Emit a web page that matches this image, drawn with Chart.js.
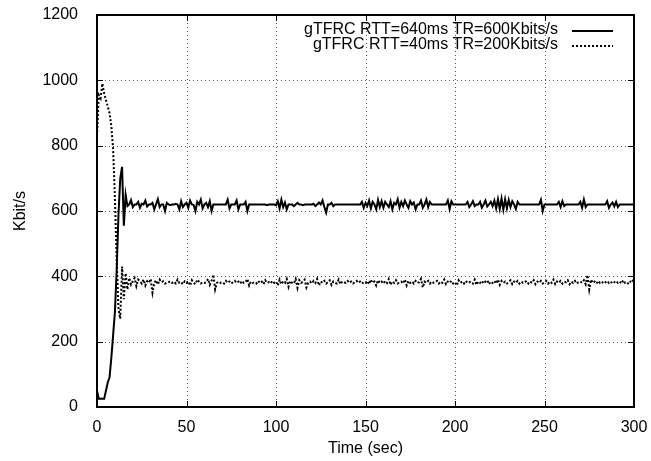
<!DOCTYPE html>
<html>
<head>
<meta charset="utf-8">
<script src="https://cdn.jsdelivr.net/npm/chart.js@4.4.0/dist/chart.umd.min.js"></script>
<style>
  html, body { margin: 0; padding: 0; background: #fff; }
  #wrap { width: 651px; height: 461px; }
</style>
</head>
<body>
<div id="wrap"><canvas id="chart"></canvas></div>
<script>
// tick values
const xTicks = [0, 50, 100, 150, 200, 250, 300];
const yTicks = [0, 200, 400, 600, 800, 1000, 1200];

const labelSlow = 'gTFRC RTT=640ms TR=600Kbits/s';
const labelFast = 'gTFRC RTT=40ms TR=200Kbits/s';

// one sample per second, t = 0..300
const rttSlow = [
  50, 25, 25, 25, 25, 50, 75, 90, 150, 220,
  290, 420, 590, 700, 735, 555, 650, 615, 620, 633,
  612, 620, 620, 628, 610, 622, 620, 632, 614, 620,
  620, 625, 605, 620, 636, 612, 620, 620, 600, 625,
  620, 618, 620, 620, 622, 620, 605, 630, 612, 620,
  625, 610, 632, 620, 618, 600, 628, 620, 635, 608,
  620, 625, 612, 630, 600, 620, 620, 620, 620, 620,
  620, 620, 620, 635, 608, 620, 620, 620, 632, 605,
  620, 620, 620, 628, 600, 620, 620, 620, 620, 620,
  620, 620, 620, 620, 620, 618, 620, 620, 620, 620,
  618, 630, 608, 635, 612, 626, 605, 620, 620, 620,
  615, 620, 625, 620, 620, 618, 620, 620, 620, 620,
  620, 622, 615, 620, 626, 620, 632, 612, 595, 620,
  620, 625, 615, 620, 620, 620, 620, 620, 620, 620,
  620, 620, 620, 620, 620, 620, 620, 620, 628, 610,
  625, 615, 632, 608, 628, 620, 605, 634, 612, 630,
  610, 628, 620, 612, 630, 605, 625, 620, 636, 610,
  628, 615, 632, 620, 610, 630, 620, 626, 605, 620,
  620, 632, 610, 620, 635, 612, 628, 620, 620, 620,
  620, 620, 620, 620, 620, 620, 632, 606, 630, 620,
  620, 620, 620, 620, 620, 620, 620, 628, 612, 620,
  630, 615, 620, 620, 628, 610, 620, 632, 614, 620,
  628, 615, 632, 608, 636, 606, 638, 604, 636, 608,
  634, 612, 630, 620, 606, 628, 620, 620, 620, 620,
  620, 620, 620, 620, 620, 620, 620, 620, 634, 600,
  620, 620, 620, 620, 620, 620, 620, 620, 628, 612,
  630, 615, 620, 620, 620, 620, 620, 620, 620, 620,
  628, 610, 635, 612, 620, 620, 620, 620, 620, 620,
  620, 620, 620, 620, 620, 630, 610, 620, 626, 614,
  628, 612, 620, 620, 620, 620, 620, 620, 620, 620,
  620
];

const rttFast = [
  830, 955, 945, 990, 960, 940, 920, 900, 860, 790,
  640, 450, 300, 270, 430, 330, 410, 360, 395, 375,
  385, 395, 370, 390, 385, 378, 390, 372, 385, 380,
  392, 350, 380, 388, 375, 390, 382, 385, 378, 380,
  382, 385, 380, 384, 378, 390, 380, 382, 376, 385,
  380, 385, 372, 388, 380, 376, 390, 384, 378, 382,
  380, 382, 392, 374, 386, 405, 360, 380, 384, 380,
  382, 378, 386, 380, 384, 378, 382, 386, 380, 384,
  378, 386, 380, 382, 392, 372, 384, 380, 382, 378,
  386, 380, 384, 376, 388, 380, 382, 378, 386, 380,
  384, 372, 390, 376, 384, 380, 392, 368, 386, 380,
  378, 392, 365, 388, 380, 384, 390, 366, 380, 384,
  378, 386, 380, 392, 372, 384, 380, 386, 378, 382,
  388, 374, 384, 380, 378, 390, 376, 384, 382, 380,
  386, 380, 384, 378, 382, 386, 380, 384, 378, 382,
  380, 386, 376, 390, 380, 384, 372, 388, 380, 384,
  378, 386, 380, 392, 374, 384, 380, 388, 378, 382,
  384, 378, 390, 372, 386, 380, 384, 378, 386, 380,
  382, 392, 366, 384, 380, 386, 378, 384, 380, 382,
  386, 378, 384, 380, 390, 376, 384, 380, 386, 378,
  382, 372, 388, 380, 384, 378, 386, 380, 382, 384,
  378, 390, 374, 384, 380, 386, 378, 384, 388, 376,
  384, 380, 386, 378, 390, 374, 386, 380, 384, 378,
  382, 388, 376, 384, 380, 386, 378, 384, 380, 382,
  386, 378, 384, 380, 388, 376, 384, 380, 386, 378,
  382, 386, 378, 384, 380, 390, 376, 384, 380, 386,
  378, 384, 382, 388, 376, 384, 380, 386, 378, 382,
  384, 380, 388, 376, 404, 360, 390, 380, 384, 378,
  386, 380, 384, 378, 382, 386, 380, 384, 378, 382,
  386, 380, 384, 378, 388, 380, 382, 376, 384, 390,
  380
];

const FONT = 'Liberation Sans, Arial, Helvetica, sans-serif';
const FS = 16;
const toPoints = arr => arr.map((v, i) => ({ x: i, y: v }));

// gnuplot look: dotted grid, frame, inward ticks on all four sides, legend top right
const gnuplotFrame = {
  id: 'gnuplotFrame',
  beforeDatasetsDraw(chart) {
    const { ctx, chartArea: a, scales } = chart;
    ctx.save();
    ctx.strokeStyle = '#555';
    ctx.lineWidth = 1;
    ctx.setLineDash([1, 3]);
    ctx.beginPath();
    xTicks.slice(1, -1).forEach(v => {
      const px = Math.round(scales.x.getPixelForValue(v)) + 0.5;
      ctx.moveTo(px, a.top); ctx.lineTo(px, a.bottom);
    });
    yTicks.slice(1, -1).forEach(v => {
      const py = Math.round(scales.y.getPixelForValue(v)) + 0.5;
      ctx.moveTo(a.left, py); ctx.lineTo(a.right, py);
    });
    ctx.stroke();
    ctx.restore();
  },
  afterDatasetsDraw(chart) {
    const { ctx, chartArea: a, scales } = chart;
    ctx.save();
    ctx.strokeStyle = '#000';
    ctx.lineWidth = 1;
    const tl = 6;
    ctx.beginPath();
    xTicks.forEach(v => {
      const px = Math.round(scales.x.getPixelForValue(v)) + 0.5;
      ctx.moveTo(px, a.bottom); ctx.lineTo(px, a.bottom - tl);
      ctx.moveTo(px, a.top); ctx.lineTo(px, a.top + tl);
    });
    yTicks.forEach(v => {
      const py = Math.round(scales.y.getPixelForValue(v)) + 0.5;
      ctx.moveTo(a.left, py); ctx.lineTo(a.left + tl, py);
      ctx.moveTo(a.right, py); ctx.lineTo(a.right - tl, py);
    });
    ctx.stroke();
    ctx.lineWidth = 2;
    ctx.strokeRect(a.left, a.top, a.right - a.left, a.bottom - a.top);

    // legend
    ctx.font = FS + 'px ' + FONT;
    ctx.fillStyle = '#000';
    ctx.textAlign = 'right';
    ctx.textBaseline = 'middle';
    const rows = [[labelSlow, []], [labelFast, [2, 2]]];
    rows.forEach(([txt, dash], i) => {
      const y = a.top + 15 + i * 15;
      ctx.fillText(txt, a.right - 76, y);
      ctx.setLineDash(dash);
      ctx.lineWidth = 2;
      ctx.beginPath();
      ctx.moveTo(a.right - 62, y + 1);
      ctx.lineTo(a.right - 21, y + 1);
      ctx.stroke();
    });
    ctx.restore();
  }
};

new Chart(document.getElementById('chart'), {
  type: 'line',
  data: {
    datasets: [
      {
        label: labelSlow,
        data: toPoints(rttSlow),
        borderColor: '#000',
        borderWidth: 2,
        pointRadius: 0,
        tension: 0
      },
      {
        label: labelFast,
        data: toPoints(rttFast),
        borderColor: '#000',
        borderWidth: 2,
        borderDash: [2, 2],
        pointRadius: 0,
        tension: 0
      }
    ]
  },
  options: {
    responsive: true,
    maintainAspectRatio: false,
    animation: false,
    devicePixelRatio: 1,
    layout: { padding: { top: 15, right: 17, left: 0, bottom: 0 } },
    plugins: {
      legend: { display: false },
      tooltip: { enabled: false }
    },
    scales: {
      x: {
        type: 'linear',
        min: 0,
        max: 300,
        afterBuildTicks: s => { s.ticks = xTicks.map(v => ({ value: v })); },
        ticks: { color: '#000', font: { family: FONT, size: FS }, padding: 3, maxRotation: 0, callback: v => String(v) },
        grid: { display: false },
        border: { display: false },
        title: { display: true, text: 'Time (sec)', color: '#000', font: { family: FONT, size: FS }, padding: { top: 0, bottom: 3 } },
        afterFit: s => { s.height = 54; s.paddingLeft = 0; s.paddingRight = 0; }
      },
      y: {
        min: 0,
        max: 1200,
        afterBuildTicks: s => { s.ticks = yTicks.map(v => ({ value: v })); },
        ticks: { color: '#000', font: { family: FONT, size: FS }, padding: 11, callback: v => String(v) },
        grid: { display: false },
        border: { display: false },
        title: { display: true, text: 'Kbit/s', color: '#000', font: { family: FONT, size: FS }, padding: { top: 11, bottom: 0 } },
        afterFit: s => { s.width = 97; s.paddingTop = 0; s.paddingBottom = 0; }
      }
    }
  },
  plugins: [gnuplotFrame]
});
</script>
</body>
</html>
